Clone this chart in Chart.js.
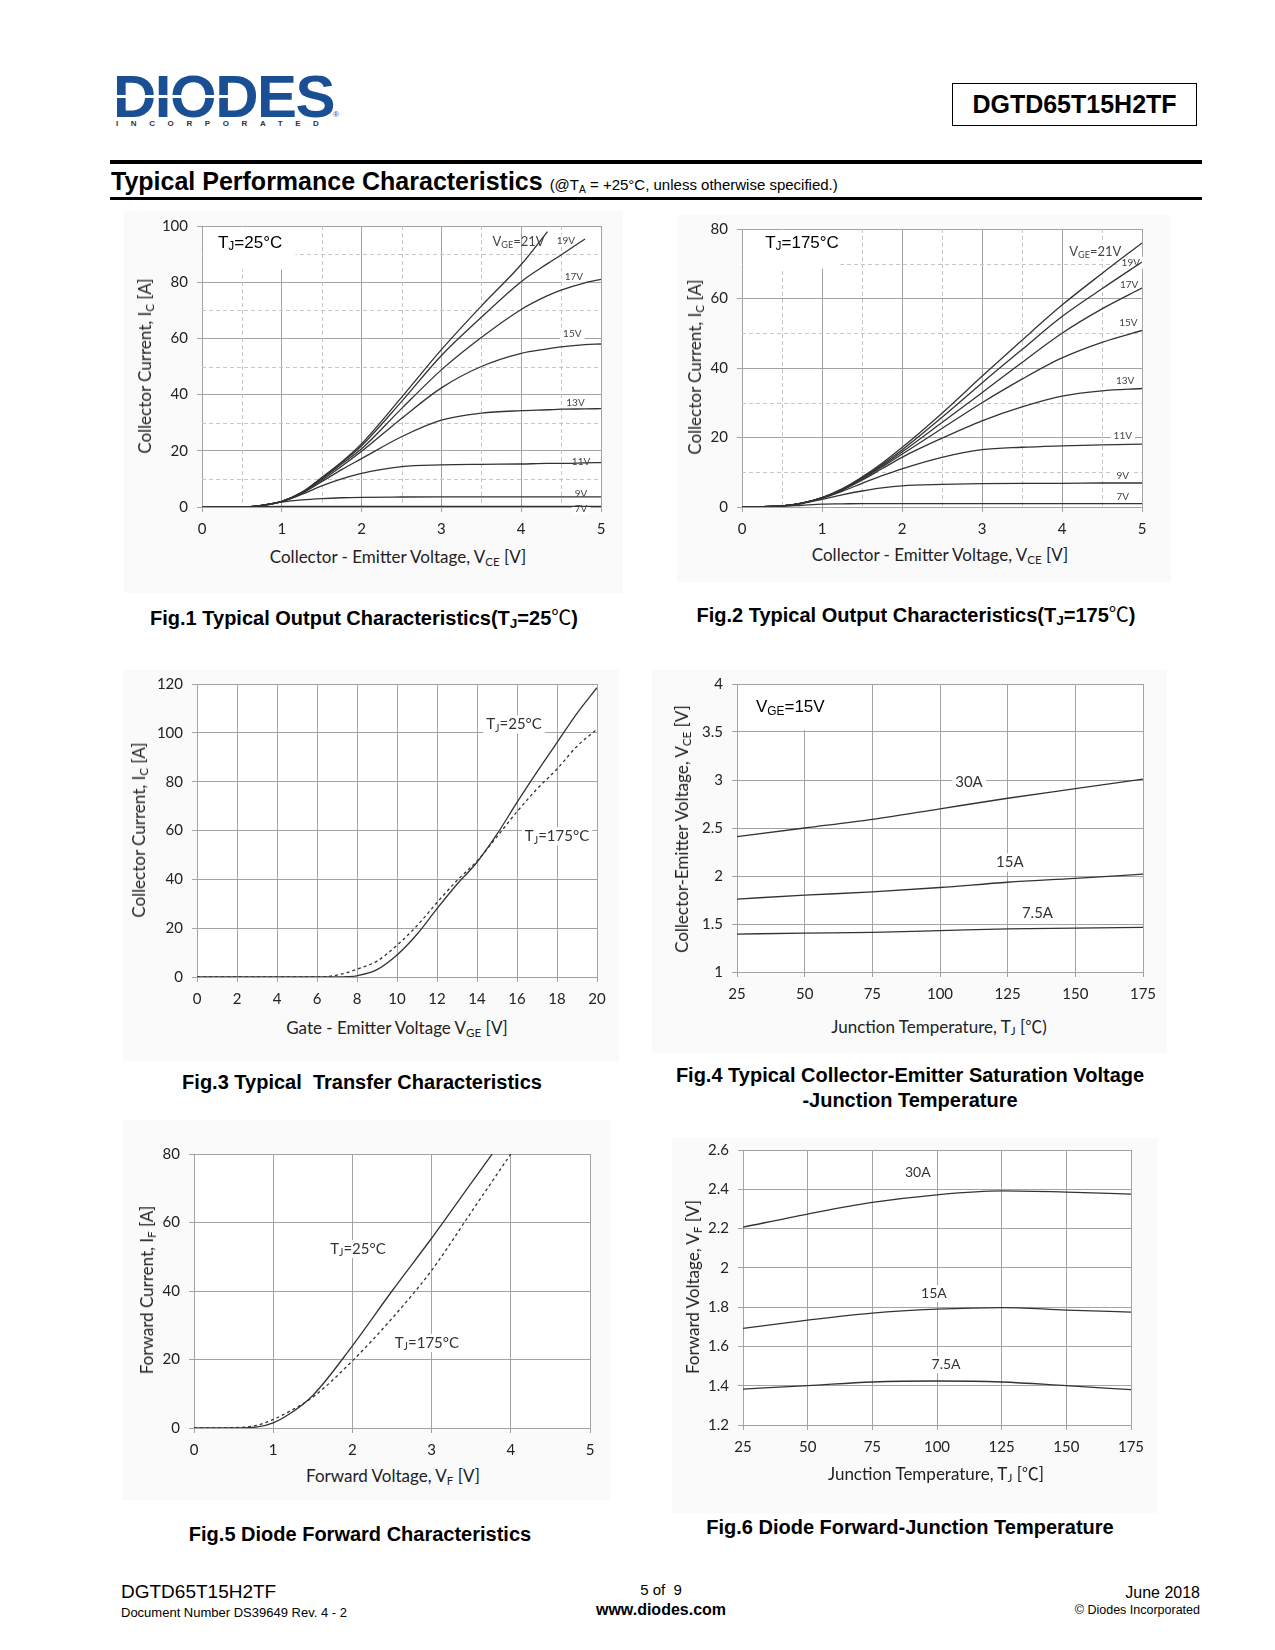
<!DOCTYPE html>
<html>
<head>
<meta charset="utf-8">
<title>DGTD65T15H2TF - Typical Performance Characteristics</title>
<script src="https://cdn.jsdelivr.net/npm/chart.js@4.4.1/dist/chart.umd.min.js"></script>
<style>
  body { margin: 0; background: #fff; }
  #page { position: relative; width: 1275px; height: 1650px; overflow: hidden; font-family: "Liberation Sans", Arial, sans-serif; color: #000; }
  .abs { position: absolute; white-space: nowrap; }
  .shade { position: absolute; background: #fafafa; }
  canvas { position: absolute; }
  .ytitle, .xtitle { position: absolute; white-space: nowrap; font-family: Lato, sans-serif; font-size: 17px; color: #222; line-height: 20px; }
  .ytitle { transform: translate(-50%, -50%) rotate(-90deg); }
  .xtitle { transform: translate(-50%, -50%); }
  .figtitle { position: absolute; transform: translate(-50%, -50%); white-space: nowrap; font-weight: bold; font-size: 20px; line-height: 24px; }
  .cjk { font-family: "Noto Sans CJK SC", sans-serif; font-weight: normal; }
  sub { font-size: 0.68em; vertical-align: -0.25em; line-height: 0; }
  .rule { position: absolute; left: 110px; width: 1092px; background: #000; }
</style>
</head>
<body>
<div id="page">
  <!-- header -->
  <div class="abs" style="left:113px;top:67px;font-weight:bold;font-size:60px;line-height:60px;color:#1a4f94;letter-spacing:-1.5px">DIODES</div>
  <div class="abs" style="left:115px;top:95px;width:118px;height:3px;background:#fff"></div>
  <div class="abs" style="left:333px;top:110px;font-size:8px;color:#1a4f94">®</div>
  <div class="abs" style="left:116px;top:119px;font-weight:bold;font-size:8px;line-height:10px;letter-spacing:12.6px;color:#333">INCORPORATED</div>
  <div class="abs" style="left:952px;top:83px;width:243px;height:41px;border:1.5px solid #000;font-weight:bold;font-size:25px;line-height:41px;text-align:center">DGTD65T15H2TF</div>
  <div class="rule" style="top:160px;height:4px"></div>
  <div class="abs" style="left:111px;top:166px;font-weight:bold;font-size:25px;line-height:30px">Typical Performance Characteristics <span style="font-weight:normal;font-size:15px">(@T<sub>A</sub> = +25°C, unless otherwise specified.)</span></div>
  <div class="rule" style="top:197px;height:3px"></div>

  <!-- faint backgrounds of the pasted plots -->
  <div class="shade" style="left:124px;top:211px;width:499px;height:382px"></div>
  <div class="shade" style="left:677px;top:215px;width:494px;height:367px"></div>
  <div class="shade" style="left:123px;top:670px;width:496px;height:391px"></div>
  <div class="shade" style="left:652px;top:670px;width:515px;height:383px"></div>
  <div class="shade" style="left:122px;top:1120px;width:488px;height:380px"></div>
  <div class="shade" style="left:672px;top:1138px;width:486px;height:375px"></div>

  <canvas id="fig1"></canvas>
  <canvas id="fig2"></canvas>
  <canvas id="fig3"></canvas>
  <canvas id="fig4"></canvas>
  <canvas id="fig5"></canvas>
  <canvas id="fig6"></canvas>

  <!-- axis titles -->
  <div class="ytitle" style="left:145px;top:366px">Collector Current, I<sub>C</sub> [A]</div>
  <div class="xtitle" style="left:398px;top:557px">Collector - Emitter Voltage, V<sub>CE</sub> [V]</div>
  <div class="ytitle" style="left:695px;top:367px">Collector Current, I<sub>C</sub> [A]</div>
  <div class="xtitle" style="left:940px;top:555px">Collector - Emitter Voltage, V<sub>CE</sub> [V]</div>
  <div class="ytitle" style="left:139px;top:830px">Collector Current, I<sub>C</sub> [A]</div>
  <div class="xtitle" style="left:397px;top:1028px">Gate - Emitter Voltage V<sub>GE</sub> [V]</div>
  <div class="ytitle" style="left:682px;top:829px">Collector-Emitter Voltage, V<sub>CE</sub> [V]</div>
  <div class="xtitle" style="left:939px;top:1026px">Junction Temperature, T<sub>J</sub> [<span class="cjk">℃</span>)</div>
  <div class="ytitle" style="left:147px;top:1290px">Forward Current, I<sub>F</sub> [A]</div>
  <div class="xtitle" style="left:393px;top:1476px">Forward Voltage, V<sub>F</sub> [V]</div>
  <div class="ytitle" style="left:693px;top:1287px">Forward Voltage, V<sub>F</sub> [V]</div>
  <div class="xtitle" style="left:936px;top:1473px">Junction Temperature, T<sub>J</sub> [<span class="cjk">℃</span>]</div>

  <!-- figure captions -->
  <div class="figtitle" style="left:364px;top:617px">Fig.1 Typical Output Characteristics(T<sub>J</sub>=25<span class="cjk">℃</span>)</div>
  <div class="figtitle" style="left:916px;top:614px">Fig.2 Typical Output Characteristics(T<sub>J</sub>=175<span class="cjk">℃</span>)</div>
  <div class="figtitle" style="left:362px;top:1082px">Fig.3 Typical&nbsp; Transfer Characteristics</div>
  <div class="figtitle" style="left:910px;top:1075px">Fig.4 Typical Collector-Emitter Saturation Voltage</div>
  <div class="figtitle" style="left:910px;top:1100px">-Junction Temperature</div>
  <div class="figtitle" style="left:360px;top:1534px">Fig.5 Diode Forward Characteristics</div>
  <div class="figtitle" style="left:910px;top:1527px">Fig.6 Diode Forward-Junction Temperature</div>

  <!-- footer -->
  <div class="abs" style="left:121px;top:1581px;font-size:19px;line-height:22px">DGTD65T15H2TF</div>
  <div class="abs" style="left:121px;top:1605px;font-size:13px;line-height:16px">Document Number DS39649 Rev. 4 - 2</div>
  <div class="abs" style="left:661px;top:1581px;font-size:15px;line-height:18px;transform:translateX(-50%)">5 of&nbsp; 9</div>
  <div class="abs" style="left:661px;top:1600px;font-size:16px;line-height:19px;font-weight:bold;transform:translateX(-50%)">www.diodes.com</div>
  <div class="abs" style="right:75px;top:1583px;font-size:16px;line-height:19px">June 2018</div>
  <div class="abs" style="right:75px;top:1603px;font-size:12.5px;line-height:15px">© Diodes Incorporated</div>
</div>

<script>
// ---------- Fig.1  output characteristics, Tj = 25 C ----------
const vce25 = [0, 0.5, 0.75, 1, 1.25, 1.5, 1.75, 2, 2.5, 3, 3.5, 4, 4.33, 4.5, 4.8, 5];
const ic25_21 = [0, 0, 0.6, 2, 5.2, 10.5, 16, 22.5, 39, 56, 71.5, 86.3, 98, null, null, null];
const ic25_19 = [0, 0, 0.6, 2, 5.2, 10.3, 15.8, 21.8, 37.5, 53.9, 67.5, 80.2, 86.6, 89.7, 95.4, null];
const ic25_17 = [0, 0, 0.6, 2, 5.1, 10, 15.3, 20.7, 35, 48.8, 60.3, 70.3, 75.2, 77.2, 79.8, 81];
const ic25_15 = [0, 0, 0.6, 2, 5, 9.5, 14.5, 19.8, 31.5, 42.4, 50, 54.7, 56.3, 57, 57.8, 58];
const ic25_13 = [0, 0, 0.6, 2, 4.8, 9, 13.3, 17.2, 25, 30.9, 33.4, 34.3, 34.6, 34.8, 34.9, 35];
const ic25_11 = [0, 0, 0.6, 1.9, 4.5, 7.5, 10, 12, 14.4, 15, 15.2, 15.3, 15.5, 15.5, 15.7, 15.8];
const ic25_9 = [0, 0, 0.5, 1.7, 2.5, 3, 3.3, 3.45, 3.55, 3.6, 3.6, 3.6, 3.6, 3.6, 3.6, 3.6];
const ic25_7 = [0, 0, 0.1, 0.2, 0.2, 0.2, 0.2, 0.2, 0.2, 0.2, 0.2, 0.2, 0.2, 0.2, 0.2, 0.2];

// ---------- Fig.2  output characteristics, Tj = 175 C ----------
const vce175 = [0, 0.5, 0.75, 1, 1.25, 1.5, 1.75, 2, 2.5, 3, 3.5, 4, 4.5, 5];
const ic175_21 = [0, 0.3, 1.1, 2.7, 5.2, 8.6, 12.6, 17.1, 27, 37.6, 48, 58.1, 67.2, 76];
const ic175_19 = [0, 0.3, 1.1, 2.7, 5.1, 8.4, 12.2, 16.4, 25.8, 35.7, 45.3, 54.8, 62.8, 70.5];
const ic175_17 = [0, 0.3, 1.1, 2.6, 5, 8.2, 11.8, 15.8, 24.3, 32.9, 41.6, 50, 57, 63];
const ic175_15 = [0, 0.3, 1.1, 2.6, 4.9, 8, 11.5, 15.2, 22.6, 30, 36.8, 42.9, 47.4, 50.8];
const ic175_13 = [0, 0.3, 1.1, 2.6, 4.8, 7.7, 11, 14.3, 19.8, 24.8, 28.8, 31.9, 33.4, 34.1];
const ic175_11 = [0, 0.3, 1.1, 2.5, 4.5, 6.8, 9, 11, 14.3, 16.5, 17.2, 17.6, 17.9, 18.1];
const ic175_9 = [0, 0.3, 1, 2.2, 3.5, 4.6, 5.5, 6.1, 6.5, 6.7, 6.8, 6.8, 6.9, 6.9];
const ic175_7 = [0, 0.2, 0.5, 0.8, 0.9, 1, 1, 1, 1, 1, 1, 1, 1, 1];

// ---------- Fig.3  transfer characteristics ----------
const vge = [0, 2, 4, 6, 6.5, 7, 7.5, 8, 9, 10, 11, 12, 13, 14, 15, 16, 17, 18, 19, 20];
const icT25 = [0, 0, 0, 0, 0, 0, 0.1, 0.5, 3, 9, 17.5, 28, 38, 47, 58.5, 71.5, 84, 96, 108, 118.5];
const icT175 = [0, 0, 0, 0, 0.2, 0.8, 1.8, 3.2, 6.5, 13, 21, 30.5, 39.5, 47.5, 57.5, 67.7, 77, 85.2, 94.5, 101.5];

// ---------- Fig.4  VCE(sat) vs junction temperature ----------
const tjSat = [25, 50, 75, 100, 125, 150, 175];
const vceSat30 = [2.41, 2.5, 2.59, 2.7, 2.81, 2.91, 3.01];
const vceSat15 = [1.76, 1.8, 1.835, 1.88, 1.935, 1.975, 2.02];
const vceSat7_5 = [1.395, 1.405, 1.412, 1.43, 1.45, 1.457, 1.465];

// ---------- Fig.5  diode forward characteristics ----------
const vf = [0, 0.5, 0.8, 1, 1.2, 1.5, 2, 2.5, 3, 3.5, 4];
const ifT25 = [0, 0, 0.3, 1.5, 4, 9.5, 24, 40, 55.4, 71.5, 87.5];
const ifT175 = [0, 0.1, 0.8, 2.5, 4.8, 9, 19.6, 32, 46, 63, 80];

// ---------- Fig.6  diode VF vs junction temperature ----------
const tjDiode = [25, 50, 75, 100, 125, 150, 175];
const vfDiode30 = [2.207, 2.274, 2.333, 2.372, 2.392, 2.386, 2.375];
const vfDiode15 = [1.692, 1.734, 1.77, 1.79, 1.798, 1.785, 1.775];
const vfDiode7_5 = [1.383, 1.4, 1.419, 1.424, 1.419, 1.4, 1.38];

const LINE = '#333';
const GRID = '#a3a3a3';
const MINOR = '#c6c6c6';

function pts(xs, ys) {
    return xs.map((x, i) => ({ x: x, y: ys[i] }));
}

function curve(xs, ys, dashed) {
    return {
        data: pts(xs, ys),
        borderColor: LINE,
        borderWidth: 1.3,
        borderDash: dashed ? [3, 3] : [],
        pointRadius: 0,
        cubicInterpolationMode: 'monotone',
        spanGaps: false
    };
}

// text with subscript parts: [['T',0],['J',1],['=25°C',0]]
function richWidth(ctx, parts, size, family) {
    let w = 0;
    parts.forEach(([t, sub]) => {
        ctx.font = (sub ? size * 0.7 : size) + 'px ' + family;
        w += ctx.measureText(t).width;
    });
    return w;
}

function drawRich(ctx, parts, x, y, size, family) {
    let cx = x;
    ctx.textAlign = 'left';
    ctx.textBaseline = 'middle';
    parts.forEach(([t, sub]) => {
        ctx.font = (sub ? size * 0.7 : size) + 'px ' + family;
        ctx.fillText(t, cx, sub ? y + size * 0.25 : y);
        cx += ctx.measureText(t).width;
    });
}

const sheetPlugin = {
    id: 'sheet',
    beforeDraw(chart) {
        const { ctx, chartArea: a } = chart;
        ctx.save();
        ctx.fillStyle = '#fff';
        ctx.fillRect(a.left, a.top, a.right - a.left, a.bottom - a.top);
        ctx.restore();
    },
    beforeDatasetsDraw(chart, args, opts) {
        const { ctx, chartArea: a, scales: { x, y } } = chart;
        ctx.save();
        ctx.strokeStyle = MINOR;
        ctx.lineWidth = 1;
        ctx.setLineDash([4, 3]);
        if (opts.minorX) {
            for (let v = x.min + opts.minorX; v < x.max; v += 2 * opts.minorX) {
                const px = Math.round(x.getPixelForValue(v)) + 0.5;
                ctx.beginPath(); ctx.moveTo(px, a.top); ctx.lineTo(px, a.bottom); ctx.stroke();
            }
        }
        if (opts.minorY) {
            for (let v = y.min + opts.minorY; v < y.max; v += 2 * opts.minorY) {
                const py = Math.round(y.getPixelForValue(v)) + 0.5;
                ctx.beginPath(); ctx.moveTo(a.left, py); ctx.lineTo(a.right, py); ctx.stroke();
            }
        }
        ctx.setLineDash([]);
        ctx.fillStyle = '#fff';
        (opts.boxes || []).forEach(b => {
            const x0 = x.getPixelForValue(b.x0) + 1, x1 = x.getPixelForValue(b.x1);
            const y0 = y.getPixelForValue(b.y1) + 1, y1 = y.getPixelForValue(b.y0);
            ctx.fillRect(x0, y0, x1 - x0, y1 - y0);
        });
        (opts.labels || []).forEach(l => {
            if (!l.bg) return;
            const w = richWidth(ctx, l.parts, l.size, l.family);
            const px = x.getPixelForValue(l.x), py = y.getPixelForValue(l.y);
            const left = l.align === 'center' ? px - w / 2 : px;
            ctx.fillRect(left - 3, py - l.size * 0.6, w + 6, l.size * 1.2);
        });
        ctx.restore();
    },
    afterDatasetsDraw(chart, args, opts) {
        const { ctx, scales: { x, y } } = chart;
        ctx.save();
        (opts.labels || []).forEach(l => {
            const w = richWidth(ctx, l.parts, l.size, l.family);
            const px = x.getPixelForValue(l.x), py = y.getPixelForValue(l.y);
            ctx.fillStyle = l.color || '#333';
            drawRich(ctx, l.parts, l.align === 'center' ? px - w / 2 : px, py, l.size, l.family);
        });
        ctx.restore();
    }
};

function axis(min, max, step, fit) {
    return {
        type: 'linear',
        min: min,
        max: max,
        ticks: {
            stepSize: step,
            autoSkip: false,
            maxRotation: 0,
            padding: fit === 'x' ? 8 : 9,
            color: '#222',
            font: { family: 'Lato', size: 15 },
            callback: v => String(+v.toFixed(2))
        },
        grid: { color: GRID, lineWidth: 1, tickLength: 5, tickColor: GRID },
        border: { color: GRID, width: 1 },
        afterFit(s) {
            if (fit === 'x') s.height = 35; else s.width = 60;
        }
    };
}

function plot(id, rect, xAx, yAx, datasets, sheet) {
    const c = document.getElementById(id);
    c.width = rect.r - rect.l + 85;
    c.height = rect.b - rect.t + 50;
    c.style.left = (rect.l - 60) + 'px';
    c.style.top = (rect.t - 15) + 'px';
    return new Chart(c, {
        type: 'line',
        data: { datasets: datasets },
        options: {
            responsive: false,
            animation: false,
            devicePixelRatio: 1,
            layout: { padding: { top: 15, right: 25, left: 0, bottom: 0 }, autoPadding: false },
            plugins: { legend: { display: false }, tooltip: { enabled: false }, sheet: sheet },
            scales: { x: xAx, y: yAx }
        },
        plugins: [sheetPlugin]
    });
}

const CAL = 'Lato';
const ARIAL = '"Liberation Sans", Arial';
const small = (t, x, y) => ({ parts: [[t, 0]], x: x, y: y, size: 10, family: CAL, align: 'center', bg: true, color: '#444' });

plot('fig1', { l: 202, r: 601, t: 223, b: 507 },
    axis(0, 5, 1, 'x'), axis(0, 100, 20, 'y'),
    [ic25_21, ic25_19, ic25_17, ic25_15, ic25_13, ic25_11, ic25_9, ic25_7].map(s => curve(vce25, s)),
    {
        minorX: 0.5, minorY: 10,
        boxes: [{ x0: 0, x1: 1.17, y0: 84.5, y1: 100 }],
        labels: [
            { parts: [['T', 0], ['J', 1], ['=25°C', 0]], x: 0.2, y: 94, size: 17, family: ARIAL, color: '#000' },
            { parts: [['V', 0], ['GE', 1], ['=21V', 0]], x: 3.64, y: 94.4, size: 13, family: CAL, color: '#444' },
            small('19V', 4.56, 94.7), small('17V', 4.66, 82), small('15V', 4.64, 61.6),
            small('13V', 4.68, 37), small('11V', 4.75, 16.2), small('9V', 4.75, 4.6), small('7V', 4.75, -0.7)
        ]
    });

plot('fig2', { l: 742, r: 1142, t: 226, b: 507 },
    axis(0, 5, 1, 'x'), axis(0, 80, 20, 'y'),
    [ic175_21, ic175_19, ic175_17, ic175_15, ic175_13, ic175_11, ic175_9, ic175_7].map(s => curve(vce175, s)),
    {
        minorX: 0.5, minorY: 10,
        boxes: [{ x0: 0, x1: 1.23, y0: 68.6, y1: 80 }],
        labels: [
            { parts: [['T', 0], ['J', 1], ['=175°C', 0]], x: 0.29, y: 76, size: 17, family: ARIAL, color: '#000' },
            { parts: [['V', 0], ['GE', 1], ['=21V', 0]], x: 4.09, y: 73.5, size: 13, family: CAL, color: '#444', bg: true },
            small('19V', 4.86, 70.3), small('17V', 4.84, 64), small('15V', 4.83, 53),
            small('13V', 4.79, 36.4), small('11V', 4.76, 20.5), small('9V', 4.76, 9.1), small('7V', 4.76, 2.8)
        ]
    });

plot('fig3', { l: 197, r: 597, t: 681, b: 977 },
    axis(0, 20, 2, 'x'), axis(0, 120, 20, 'y'),
    [curve(vge, icT25), curve(vge, icT175, true)],
    {
        labels: [
            { parts: [['T', 0], ['J', 1], ['=25°C', 0]], x: 15.85, y: 103.4, size: 15, family: CAL, align: 'center', bg: true },
            { parts: [['T', 0], ['J', 1], ['=175°C', 0]], x: 18, y: 57.6, size: 15, family: CAL, align: 'center', bg: true }
        ]
    });

plot('fig4', { l: 737, r: 1143, t: 681, b: 972 },
    axis(25, 175, 25, 'x'), axis(1, 4, 0.5, 'y'),
    [curve(tjSat, vceSat30), curve(tjSat, vceSat15), curve(tjSat, vceSat7_5)],
    {
        boxes: [{ x0: 25, x1: 62, y0: 3.52, y1: 4 }],
        labels: [
            { parts: [['V', 0], ['GE', 1], ['=15V', 0]], x: 32, y: 3.76, size: 17, family: ARIAL, color: '#000' },
            { parts: [['30A', 0]], x: 110.7, y: 2.98, size: 15, family: CAL, align: 'center', bg: true },
            { parts: [['15A', 0]], x: 125.8, y: 2.14, size: 15, family: CAL, align: 'center', bg: true },
            { parts: [['7.5A', 0]], x: 136, y: 1.61, size: 15, family: CAL, align: 'center', bg: true }
        ]
    });

plot('fig5', { l: 194, r: 590, t: 1151, b: 1428 },
    axis(0, 5, 1, 'x'), axis(0, 80, 20, 'y'),
    [curve(vf, ifT25), curve(vf, ifT175, true)],
    {
        labels: [
            { parts: [['T', 0], ['J', 1], ['=25°C', 0]], x: 2.07, y: 52.3, size: 15, family: CAL, align: 'center', bg: true },
            { parts: [['T', 0], ['J', 1], ['=175°C', 0]], x: 2.94, y: 24.8, size: 15, family: CAL, align: 'center', bg: true }
        ]
    });

plot('fig6', { l: 743, r: 1131, t: 1147, b: 1425 },
    axis(25, 175, 25, 'x'), axis(1.2, 2.6, 0.2, 'y'),
    [curve(tjDiode, vfDiode30), curve(tjDiode, vfDiode15), curve(tjDiode, vfDiode7_5)],
    {
        labels: [
            { parts: [['30A', 0]], x: 92.6, y: 2.484, size: 14, family: CAL, align: 'center', bg: true },
            { parts: [['15A', 0]], x: 98.8, y: 1.87, size: 14, family: CAL, align: 'center', bg: true },
            { parts: [['7.5A', 0]], x: 103.5, y: 1.507, size: 14, family: CAL, align: 'center', bg: true }
        ]
    });
</script>
</body>
</html>
